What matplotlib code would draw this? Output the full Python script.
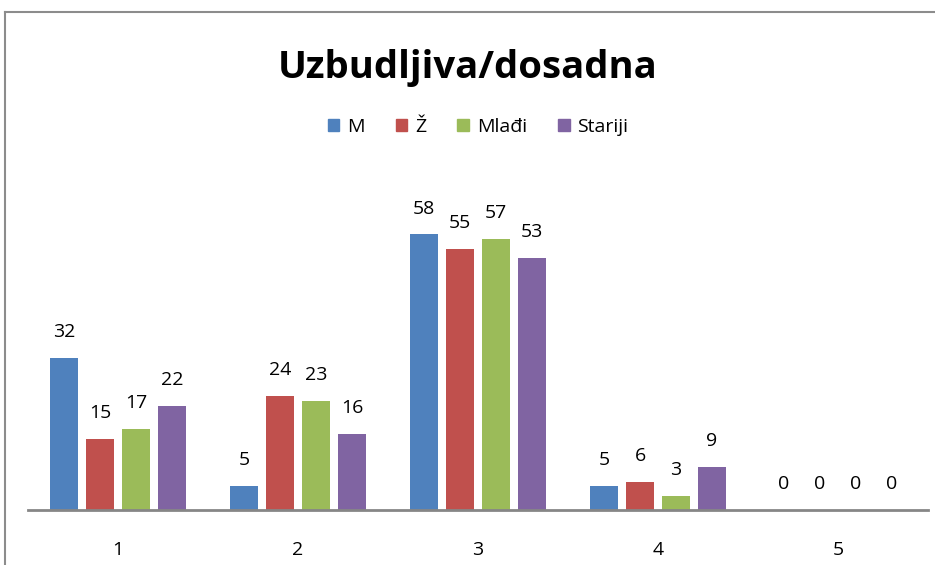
import numpy as np
import matplotlib.pyplot as plt
from matplotlib.lines import Line2D
from matplotlib.patches import Patch

categories = ['1', '2', '3', '4', '5']
series_names = ['M', 'Ž', 'Mlađi', 'Stariji']
m_vals = [32, 5, 58, 5, 0]
z_vals = [15, 24, 55, 6, 0]
mladji_vals = [17, 23, 57, 3, 0]
stariji_vals = [22, 16, 53, 9, 0]
colors = ['#4F81BD', '#C0504D', '#9BBB59', '#8064A2']

plt.rcParams['font.family'] = ['Open Sans', 'DejaVu Sans']

W, H = 935, 565
fig = plt.figure(figsize=(W / 100, H / 100), dpi=100)

# chart frame (cut off on right and bottom)
fig.add_artist(Line2D([5 / W, 5 / W], [0, 1 - 12 / H], color='#8c8c8c', lw=1.5))
fig.add_artist(Line2D([5 / W, 1], [1 - 12 / H, 1 - 12 / H], color='#8c8c8c', lw=1.5))

ax = fig.add_axes([28 / W, 55 / H, 900 / W, 332.5 / H])

x = np.arange(len(categories))
width = 0.155
step = 0.2
all_vals = [m_vals, z_vals, mladji_vals, stariji_vals]
for i, (vals, col) in enumerate(zip(all_vals, colors)):
    pos = x + (i - 1.5) * step
    ax.bar(pos, vals, width=width, color=col, label=series_names[i])
    for p, v in zip(pos, vals):
        ax.annotate(str(v), (p, v), xytext=(0, 18.7), textcoords='offset points',
                    ha='center', va='center', fontsize=14)

ax.set_xlim(-0.5, 4.5)
ax.set_ylim(0, 70)
for s in ['top', 'right', 'left']:
    ax.spines[s].set_visible(False)
ax.spines['bottom'].set_color('#868686')
ax.spines['bottom'].set_linewidth(2)
ax.set_yticks([])
ax.set_xticks(x)
ax.set_xticklabels(categories, fontsize=14)
ax.tick_params(axis='x', length=0, pad=22)

fig.text(0.5, 1 - 68 / H, 'Uzbudljiva/dosadna', ha='center', va='center',
         fontsize=27.5, fontweight='bold')

handles = [Patch(color=c) for c in colors]
fig.legend(handles, series_names, loc='center', bbox_to_anchor=(478 / W, 1 - 127 / H),
           ncol=4, frameon=False, fontsize=14, handlelength=0.6, handleheight=0.6,
           handletextpad=0.4, columnspacing=1.6)

fig.savefig('out.png', dpi=100)
